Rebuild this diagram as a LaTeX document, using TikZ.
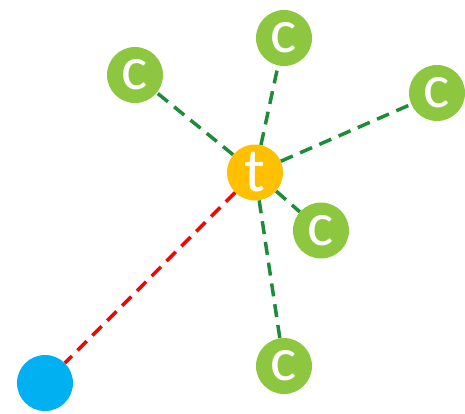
\documentclass[tikz,border=0pt]{standalone}
\usepackage{fontspec}
\setmainfont{Carlito}
\definecolor{cgreen}{HTML}{8DC63F}
\definecolor{torange}{HTML}{FFC000}
\definecolor{sblue}{HTML}{00B0F0}
\definecolor{lgreen}{HTML}{1E8B3A}
\definecolor{lred}{HTML}{FF0000}
\begin{document}
\begin{tikzpicture}[x=1pt,y=-1pt,
  dot/.style={circle,inner sep=0pt,minimum size=56pt,text=white,font=\fontsize{62}{62}\selectfont},
  cnode/.style={dot,fill=cgreen},
  tnode/.style={dot,fill=torange},
  snode/.style={dot,fill=sblue},
  glink/.style={draw=lgreen,line width=3.5pt,dash pattern=on 13pt off 8pt},
  rlink/.style={draw=lred,line width=3.5pt,dash pattern=on 13pt off 8pt}]
\useasboundingbox (0,0) rectangle (465,413);
\node[tnode] (t) at (255,172.5) {t};
\node[cnode] (c1) at (135,75) {\raisebox{-5pt}{c}};
\node[cnode] (c2) at (284,38) {\raisebox{-5pt}{c}};
\node[cnode] (c3) at (437,93) {\raisebox{-5pt}{c}};
\node[cnode] (c4) at (321,230.5) {\raisebox{-5pt}{c}};
\node[cnode] (c5) at (284,366) {\raisebox{-5pt}{c}};
\node[snode] (s) at (45,383) {};
\draw[glink] (t) -- (c1);
\draw[glink] (t) -- (c2);
\draw[glink] (t) -- (c3);
\draw[glink] (t) -- (c4);
\draw[glink] (t) -- (c5);
\draw[rlink] (t) -- (s);
\end{tikzpicture}
\end{document}
